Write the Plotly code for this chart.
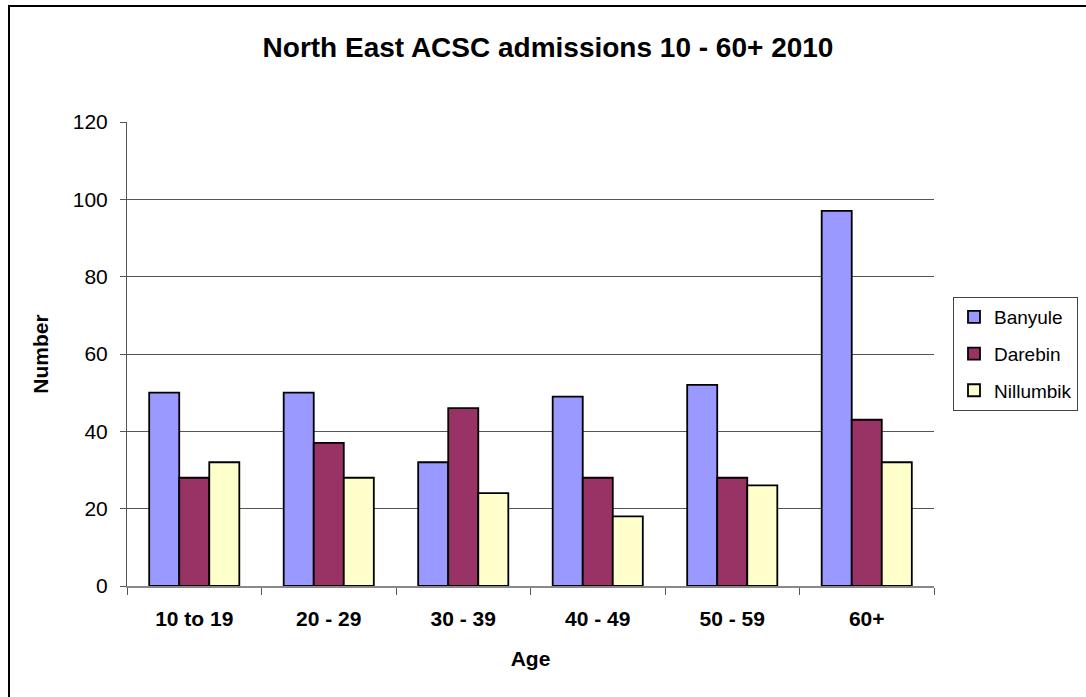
import plotly.graph_objects as go

# Admissions by age group for the three North East LGAs
age_groups = ["10 to 19", "20 - 29", "30 - 39", "40 - 49", "50 - 59", "60+"]
banyule = [50, 50, 32, 49, 52, 97]
darebin = [28, 37, 46, 28, 28, 43]
nillumbik = [32, 28, 24, 18, 26, 32]

W, H = 1086, 697
L, R, T, B = 127, 934, 122, 586  # plot area in pixels


def px_x(x):
    return (x - L) / (R - L)


def px_y(y):
    return (B - y) / (B - T)


fig = go.Figure()
series = [("Banyule", banyule, "#9999FF"),
          ("Darebin", darebin, "#993366"),
          ("Nillumbik", nillumbik, "#FFFFCC")]
for name, vals, col in series:
    fig.add_trace(go.Bar(
        x=age_groups, y=vals, name=name, legendgroup=name,
        marker=dict(color=col, line=dict(color="black", width=1.8)),
    ))

font = "Arial, Liberation Sans, sans-serif"
fig.update_layout(
    width=W, height=H,
    margin=dict(l=L, r=W - R, t=T, b=H - B, autoexpand=False),
    paper_bgcolor="white", plot_bgcolor="white",
    barmode="group", bargap=0.33, bargroupgap=0,
    font=dict(family=font, size=19, color="black"),
    title=dict(text="<b>North East ACSC admissions 10 - 60+ 2010</b>",
               x=px_x(548), xref="paper", xanchor="center",
               y=1 - 47 / H, yanchor="middle",
               font=dict(size=28, family=font)),
    legend=dict(x=px_x(953), y=px_y(297), xanchor="left", yanchor="top",
                bordercolor="#444444", borderwidth=1, bgcolor="white",
                font=dict(size=19, family=font), tracegroupgap=9,
                itemwidth=30),
    showlegend=True,
)
fig.update_xaxes(
    type="category", tickson="boundaries", ticks="outside", ticklen=7,
    tickcolor="#555555", showline=True, linecolor="#888888", linewidth=2,
    tickfont=dict(size=21, family=font),
    tickvals=age_groups, ticktext=["<b>%s</b>" % g for g in age_groups],
    ticklabelstandoff=13,
    title=dict(text="<b>Age</b>", font=dict(size=21, family=font), standoff=22),
)
fig.update_yaxes(
    range=[0, 120], dtick=20, ticks="outside", ticklen=6, tickcolor="#555555",
    showline=True, linecolor="#555555", linewidth=1,
    showgrid=True, gridcolor="#555555", gridwidth=1, zeroline=False,
    tickfont=dict(size=21, family=font), ticklabelstandoff=8,
    title=dict(text="<b>Number</b>", font=dict(size=21, family=font), standoff=18),
)
# outer chart border (left and top edges visible)
fig.add_shape(type="rect", xref="paper", yref="paper",
              x0=px_x(9), x1=px_x(W + 20), y0=px_y(H + 20), y1=px_y(6),
              line=dict(color="black", width=2), fillcolor="rgba(0,0,0,0)",
              layer="below")

fig.write_html("out.html")
